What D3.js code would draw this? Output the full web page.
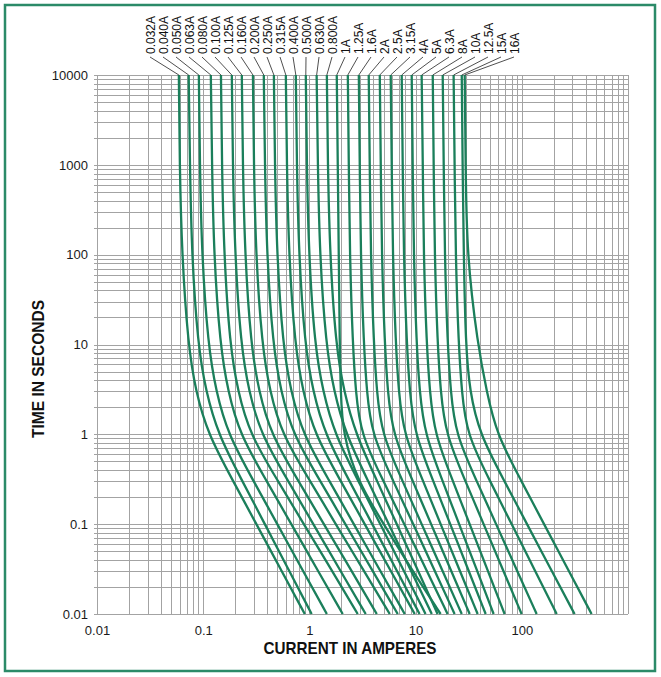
<!DOCTYPE html>
<html>
<head>
<meta charset="utf-8">
<script src="https://cdn.jsdelivr.net/npm/d3@7/dist/d3.min.js"></script>
<style>
  html, body { margin: 0; padding: 0; background: #fff; }
  svg { display: block; }
</style>
</head>
<body>
<svg id="chart" width="661" height="677"></svg>
<script>
// ---------------- DATA ----------------
const fuseLabels = ["0.032A","0.040A","0.050A","0.063A","0.080A","0.100A","0.125A","0.160A","0.200A","0.250A",
  "0.315A","0.400A","0.500A","0.630A","0.800A","1A","1.25A","1.6A","2A","2.5A","3.15A","4A","5A","6.3A","8A",
  "10A","12.5A","15A","16A"];

// time points (seconds) at which each curve's current was read
const times = [10000, 1000, 100, 10, 3, 1, 0.3, 0.1, 0.03, 0.01];

// current (A) for each fuse at the times above
const currents = [
  [0.059, 0.060, 0.063, 0.072, 0.085, 0.111, 0.192, 0.317, 0.549, 0.905],
  [0.073, 0.075, 0.078, 0.089, 0.106, 0.138, 0.234, 0.381, 0.648, 1.05],
  [0.091, 0.093, 0.097, 0.111, 0.132, 0.171, 0.299, 0.499, 0.874, 1.46],
  [0.118, 0.121, 0.126, 0.144, 0.171, 0.221, 0.397, 0.676, 1.21, 2.06],
  [0.147, 0.150, 0.157, 0.178, 0.212, 0.275, 0.508, 0.886, 1.64, 2.85],
  [0.186, 0.190, 0.199, 0.226, 0.269, 0.349, 0.633, 1.09, 1.97, 3.39],
  [0.231, 0.236, 0.247, 0.281, 0.334, 0.434, 0.791, 1.37, 2.50, 4.31],
  [0.294, 0.300, 0.313, 0.357, 0.424, 0.550, 1.02, 1.77, 3.27, 5.71],
  [0.372, 0.381, 0.397, 0.453, 0.538, 0.698, 1.27, 2.18, 3.95, 6.79],
  [0.463, 0.473, 0.494, 0.562, 0.668, 0.867, 1.55, 2.62, 4.67, 7.90],
  [0.600, 0.613, 0.640, 0.729, 0.867, 1.12, 1.98, 3.32, 5.86, 9.81],
  [0.745, 0.761, 0.795, 0.905, 1.08, 1.40, 2.39, 3.91, 6.70, 10.9],
  [0.925, 0.945, 0.987, 1.12, 1.34, 1.73, 2.90, 4.65, 7.78, 12.4],
  [1.17, 1.20, 1.25, 1.43, 1.70, 2.20, 3.58, 5.58, 9.09, 14.2],
  [1.46, 1.49, 1.56, 1.77, 2.11, 2.73, 4.35, 6.64, 10.6, 16.1],
  [1.81, 1.85, 1.89, 1.93, 1.97, 2.06, 2.85, 5.01, 9.39, 17.2],
  [2.30, 2.35, 2.40, 2.56, 2.73, 3.04, 4.99, 7.81, 12.8, 20.0],
  [2.92, 2.98, 3.04, 3.25, 3.47, 3.86, 6.18, 9.49, 15.2, 23.3],
  [3.62, 3.70, 3.78, 4.04, 4.31, 4.80, 7.56, 11.4, 18.0, 27.2],
  [4.60, 4.70, 4.80, 5.12, 5.46, 6.09, 9.43, 14.0, 21.7, 32.3],
  [5.83, 5.96, 6.09, 6.50, 6.93, 7.73, 11.8, 17.2, 26.2, 38.4],
  [7.40, 7.56, 7.73, 8.25, 8.80, 9.81, 14.7, 21.2, 31.7, 45.7],
  [9.19, 9.39, 9.60, 10.2, 10.9, 12.2, 18.0, 25.7, 38.1, 54.3],
  [11.4, 11.7, 11.9, 12.7, 13.6, 15.1, 22.5, 32.3, 48.0, 68.9],
  [14.5, 14.8, 15.1, 16.1, 17.2, 19.2, 29.5, 43.7, 67.3, 99.6],
  [18.0, 18.4, 18.8, 20.0, 21.4, 23.8, 37.7, 57.3, 90.7, 138],
  [22.8, 23.3, 23.8, 25.4, 27.2, 30.3, 50.4, 80.2, 134, 213],
  [27.2, 27.7, 28.4, 29.6, 32.3, 40.1, 68.8, 112, 192, 314],
  [29.0, 29.6, 30.3, 38.4, 46.7, 57.9, 99.4, 162, 278, 454]
];

const xTicks = [0.01, 0.1, 1, 10, 100];
const xTickLabels = ["0.01", "0.1", "1", "10", "100"];
const yTicks = [0.01, 0.1, 1, 10, 100, 1000, 10000];
const yTickLabels = ["0.01", "0.1", "1", "10", "100", "1000", "10000"];
const xTitle = "CURRENT IN AMPERES";
const yTitle = "TIME IN SECONDS";

(function () {
// ---------------- LAYOUT ----------------
const mLeft = 97, mRight = 628, mTop = 75, mBottom = 614;
const green = "#1b7f5b";
const gridColor = "#a3a3a3";

const svg = d3.select("#chart");

svg.append("rect")
  .attr("x", 5).attr("y", 5).attr("width", 650).attr("height", 666)
  .attr("fill", "none").attr("stroke", "#2b8a68").attr("stroke-width", 2.5);

const x = d3.scaleLog().domain([0.01, 1000]).range([mLeft, mRight]);
const y = d3.scaleLog().domain([0.01, 10000]).range([mBottom, mTop]);

function decadeGrid(lo, hi) {
  const v = [];
  for (let e = Math.round(Math.log10(lo)); e < Math.round(Math.log10(hi)); e++) {
    for (let m = 1; m <= 9; m++) v.push(m * Math.pow(10, e));
  }
  v.push(hi);
  return v;
}
const xGrid = decadeGrid(0.01, 1000);
const yGrid = decadeGrid(0.01, 10000);

const grid = svg.append("g").attr("shape-rendering", "crispEdges");
grid.selectAll("line.v").data(xGrid).join("line").attr("class", "v")
  .attr("x1", d => Math.round(x(d)) + 0.5).attr("x2", d => Math.round(x(d)) + 0.5)
  .attr("y1", mTop).attr("y2", mBottom)
  .attr("stroke", gridColor).attr("stroke-width", 1);
grid.selectAll("line.h").data(yGrid).join("line").attr("class", "h")
  .attr("x1", mLeft - 3).attr("x2", mRight)
  .attr("y1", d => Math.round(y(d)) + 0.5).attr("y2", d => Math.round(y(d)) + 0.5)
  .attr("stroke", gridColor).attr("stroke-width", 1);

const xAxis = svg.append("g").attr("transform", `translate(0,${mBottom})`)
  .call(d3.axisBottom(x).tickValues(xTicks).tickFormat((d, i) => xTickLabels[i]).tickSize(0).tickPadding(12));
xAxis.select(".domain").remove();
xAxis.selectAll("text").attr("font-family", "Liberation Sans, Arial, sans-serif")
  .attr("font-size", 13).attr("fill", "#1a1a1a");

const yAxis = svg.append("g").attr("transform", `translate(${mLeft - 9},0)`)
  .call(d3.axisLeft(y).tickValues(yTicks).tickFormat((d, i) => yTickLabels[i]).tickSize(0).tickPadding(0));
yAxis.select(".domain").remove();
yAxis.selectAll("text").attr("font-family", "Liberation Sans, Arial, sans-serif")
  .attr("font-size", 13).attr("fill", "#1a1a1a");

svg.append("text")
  .attr("x", 350).attr("y", 654)
  .attr("text-anchor", "middle")
  .attr("font-family", "Liberation Sans, Arial, sans-serif")
  .attr("font-weight", "bold").attr("font-size", 17).attr("fill", "#111")
  .attr("textLength", 173).attr("lengthAdjust", "spacingAndGlyphs")
  .text(xTitle);
svg.append("text")
  .attr("transform", `translate(44,369) rotate(-90)`)
  .attr("text-anchor", "middle")
  .attr("font-family", "Liberation Sans, Arial, sans-serif")
  .attr("font-weight", "bold").attr("font-size", 17).attr("fill", "#111")
  .attr("textLength", 138).attr("lengthAdjust", "spacingAndGlyphs")
  .text(yTitle);

const series = fuseLabels.map((name, i) => ({
  name,
  pts: times.map((t, j) => ({ t, I: currents[i][j] }))
}));

const line = d3.line()
  .x(d => x(d.I)).y(d => y(d.t))
  .curve(d3.curveBasis);

svg.append("g").selectAll("path").data(series).join("path")
  .attr("d", d => line(d.pts))
  .attr("fill", "none").attr("stroke", green).attr("stroke-width", 2.3)
  .attr("stroke-linejoin", "round");

const lx = d3.scalePoint().domain(fuseLabels).range([150, 514]);

svg.append("g").selectAll("line").data(series).join("line")
  .attr("x1", d => lx(d.name)).attr("y1", 57)
  .attr("x2", d => x(d.pts[0].I)).attr("y2", mTop)
  .attr("stroke", "#222").attr("stroke-width", 0.8);

svg.append("g").selectAll("text").data(series).join("text")
  .attr("transform", d => `translate(${lx(d.name) + 4.5},54) rotate(-90)`)
  .attr("text-anchor", "start")
  .attr("font-family", "Liberation Sans, Arial, sans-serif")
  .attr("font-size", 12).attr("fill", "#111")
  .text(d => d.name);
})();
</script>
</body>
</html>
